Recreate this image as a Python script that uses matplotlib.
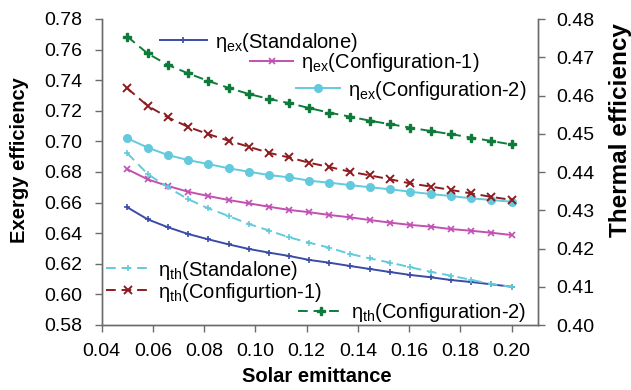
import matplotlib
matplotlib.use("Agg")
import matplotlib.pyplot as plt

plt.rcParams['font.family'] = ['Liberation Sans', 'DejaVu Sans']
plt.rcParams['mathtext.fontset'] = 'custom'
plt.rcParams['mathtext.rm'] = 'Liberation Sans'
plt.rcParams['mathtext.it'] = 'Liberation Sans'

# Data
emittance = [0.0500, 0.0579, 0.0658, 0.0737, 0.0816, 0.0895, 0.0974, 0.1053, 0.1132, 0.1211,
             0.1289, 0.1368, 0.1447, 0.1526, 0.1605, 0.1684, 0.1763, 0.1842, 0.1921, 0.2000]

ex_standalone = [0.6569, 0.6491, 0.6439, 0.6395, 0.6360, 0.6327, 0.6297, 0.6273, 0.6251, 0.6225,
                 0.6207, 0.6186, 0.6166, 0.6146, 0.6127, 0.6112, 0.6094, 0.6081, 0.6066, 0.6050]
ex_config1 = [0.6818, 0.6752, 0.6709, 0.6671, 0.6643, 0.6617, 0.6595, 0.6573, 0.6552, 0.6537,
              0.6519, 0.6504, 0.6486, 0.6469, 0.6454, 0.6443, 0.6427, 0.6416, 0.6403, 0.6388]
ex_config2 = [0.7020, 0.6960, 0.6911, 0.6878, 0.6852, 0.6824, 0.6802, 0.6780, 0.6765, 0.6743,
              0.6730, 0.6715, 0.6700, 0.6687, 0.6671, 0.6656, 0.6643, 0.6628, 0.6617, 0.6606]

th_standalone = [0.4449, 0.4395, 0.4360, 0.4329, 0.4305, 0.4285, 0.4264, 0.4247, 0.4229, 0.4215,
                 0.4202, 0.4186, 0.4174, 0.4163, 0.4151, 0.4139, 0.4129, 0.4118, 0.4107, 0.4100]
th_config1 = [0.4619, 0.4573, 0.4543, 0.4518, 0.4499, 0.4482, 0.4466, 0.4450, 0.4438, 0.4424,
              0.4413, 0.4401, 0.4391, 0.4381, 0.4370, 0.4362, 0.4353, 0.4344, 0.4335, 0.4327]
th_config2 = [0.4754, 0.4710, 0.4680, 0.4658, 0.4638, 0.4620, 0.4604, 0.4591, 0.4580, 0.4567,
              0.4555, 0.4545, 0.4534, 0.4525, 0.4516, 0.4507, 0.4499, 0.4490, 0.4481, 0.4472]

x_ticks = [0.04, 0.06, 0.08, 0.10, 0.12, 0.14, 0.16, 0.18, 0.20]
left_ticks = [0.58, 0.60, 0.62, 0.64, 0.66, 0.68, 0.70, 0.72, 0.74, 0.76, 0.78]
right_ticks = [0.40, 0.41, 0.42, 0.43, 0.44, 0.45, 0.46, 0.47, 0.48]

labels_ex = [r'η$_{\mathrm{ex}}$(Standalone)', r'η$_{\mathrm{ex}}$(Configuration-1)',
             r'η$_{\mathrm{ex}}$(Configuration-2)']
labels_th = [r'η$_{\mathrm{th}}$(Standalone)', r'η$_{\mathrm{th}}$(Configurtion-1)',
             r'η$_{\mathrm{th}}$(Configuration-2)']

W, H = 631, 390
fig = plt.figure(figsize=(W / 100, H / 100), dpi=100)
L, R, T, B = 101.7, 538, 19, 325
ax = fig.add_axes([L / W, 1 - B / H, (R - L) / W, (B - T) / H])
ax2 = ax.twinx()

c_blue = '#3B4BA6'
c_mag = '#C24FB2'
c_cyan = '#63C9DD'
c_red = '#8E1B1F'
c_green = '#0F7B3B'

h1, = ax.plot(emittance, ex_standalone, color=c_blue, lw=1.4, marker='+', ms=5, mew=1.2)
h2, = ax.plot(emittance, ex_config1, color=c_mag, lw=1.4, marker='x', ms=5, mew=1.2)
h3, = ax.plot(emittance, ex_config2, color=c_cyan, lw=1.4, marker='o', ms=5.5)
h4, = ax2.plot(emittance, th_standalone, color=c_cyan, lw=1.4, ls=(0, (5, 3)), marker='+', ms=5, mew=1.2)
h5, = ax2.plot(emittance, th_config1, color=c_red, lw=1.4, ls=(0, (5, 3)), marker='x', ms=6, mew=1.4)
h6, = ax2.plot(emittance, th_config2, color=c_green, lw=1.4, ls=(0, (5, 3)), marker='P', ms=5.5)

ax.set_xlim(0.04, 0.2103)
ax.set_ylim(0.58, 0.78)
ax2.set_ylim(0.40, 0.48)
ax.set_xticks(x_ticks)
ax.set_xticklabels([f'{v:.2f}' for v in x_ticks])
ax.set_yticks(left_ticks)
ax.set_yticklabels([f'{v:.2f}' for v in left_ticks])
ax2.set_yticks(right_ticks)
ax2.set_yticklabels([f'{v:.2f}' for v in right_ticks])

spine_c = '#6b6b6b'
for a in (ax, ax2):
    a.spines['top'].set_visible(False)
    for s in ('left', 'right', 'bottom'):
        a.spines[s].set_color(spine_c)
        a.spines[s].set_linewidth(1.0)
ax.tick_params(axis='x', direction='out', length=5, width=1, color=spine_c, labelsize=14, pad=8)
ax.tick_params(axis='y', direction='out', length=5, width=1, color=spine_c, labelsize=14, pad=9)
ax2.tick_params(axis='y', direction='out', length=5, width=1, color=spine_c, labelsize=14, pad=8)

fig.text(317 / W, 1 - 376 / H, 'Solar emittance', fontsize=14.5, fontweight='bold',
         ha='center', va='center')
fig.text(20 / W, 1 - 160 / H, 'Exergy efficiency', fontsize=14.5, fontweight='bold',
         ha='center', va='center', rotation=90)
fig.text(620 / W, 1 - 130 / H, 'Thermal efficiency', fontsize=17.5, fontweight='bold',
         ha='center', va='center', rotation=90)

# Staggered legends
entries = [
    (h1, labels_ex[0], 160, 42, 2.33),
    (h2, labels_ex[1], 250, 63, 2.14),
    (h3, labels_ex[2], 296, 90, 2.2),
    (h4, labels_th[0], 106, 270, 2.2),
    (h5, labels_th[1], 106, 292, 2.2),
    (h6, labels_th[2], 298, 313, 2.25),
]
for h, lab, px, py, hl in entries:
    fig.legend([h], [lab], loc='center left',
               bbox_to_anchor=(px / W, 1 - py / H),
               frameon=False, fontsize=14.5, handlelength=hl,
               handletextpad=0.4, borderpad=0, borderaxespad=0)

fig.savefig('out.png', dpi=100)
